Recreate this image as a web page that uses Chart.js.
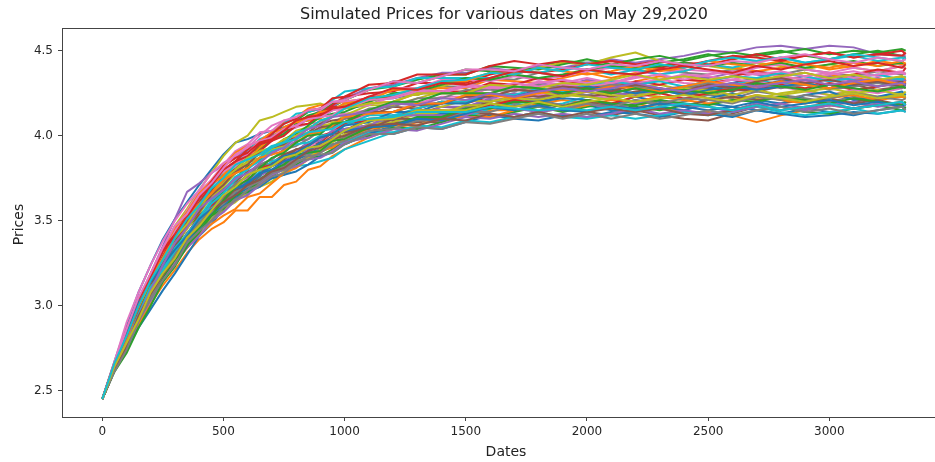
<!DOCTYPE html>
<html><head><meta charset="utf-8">
<script src="https://cdn.jsdelivr.net/npm/chart.js@4/dist/chart.umd.min.js"></script>
<style>
html,body{margin:0;padding:0;background:#fff;overflow:hidden;width:935px;height:462px}
canvas{display:block}
</style></head><body>
<canvas id="c" width="935" height="462" style="width:935px;height:462px"></canvas>
<script>
const titleText = "Simulated Prices for various dates on May 29,2020";
const xLabel = "Dates";
const yLabel = "Prices";
const xTicks = [0, 500, 1000, 1500, 2000, 2500, 3000];
const yTicks = [2.5, 3.0, 3.5, 4.0, 4.5];
const dates = [0,50,100,150,200,250,300,350,400,450,500,550,600,650,700,750,800,850,900,950,1000,1100,1200,1300,1400,1500,1600,1700,1800,1900,2000,2100,2200,2300,2400,2500,2600,2700,2800,2900,3000,3100,3200,3300,3315];

const s00 = [2.45,2.67,2.88,3.08,3.24,3.39,3.51,3.61,3.71,3.80,3.89,3.96,3.98,4.01,4.03,4.05,4.08,4.09,4.11,4.15,4.19,4.21,4.22,4.25,4.25,4.25,4.28,4.27,4.26,4.24,4.28,4.30,4.30,4.27,4.25,4.28,4.31,4.34,4.33,4.31,4.28,4.30,4.33,4.32,4.31];
const s01 = [2.45,2.62,2.74,2.89,3.01,3.12,3.21,3.31,3.39,3.45,3.49,3.56,3.56,3.64,3.64,3.71,3.73,3.80,3.82,3.88,3.92,3.99,4.04,4.08,4.09,4.14,4.15,4.15,4.19,4.21,4.19,4.16,4.19,4.16,4.14,4.14,4.12,4.08,4.12,4.15,4.18,4.16,4.19,4.17,4.18];
const s02 = [2.45,2.66,2.82,3.02,3.14,3.29,3.42,3.50,3.61,3.71,3.77,3.81,3.87,3.94,4.00,4.03,4.09,4.14,4.16,4.17,4.21,4.27,4.32,4.31,4.35,4.39,4.38,4.37,4.41,4.44,4.43,4.41,4.40,4.43,4.45,4.48,4.45,4.48,4.50,4.47,4.45,4.48,4.50,4.47,4.46];
const s03 = [2.45,2.62,2.76,2.92,3.04,3.19,3.28,3.37,3.47,3.53,3.63,3.67,3.70,3.78,3.84,3.85,3.91,3.91,3.96,4.02,4.03,4.10,4.11,4.16,4.20,4.19,4.23,4.27,4.26,4.29,4.28,4.25,4.28,4.25,4.27,4.31,4.33,4.31,4.29,4.32,4.30,4.27,4.29,4.31,4.33];
const s04 = [2.45,2.66,2.84,3.03,3.19,3.35,3.51,3.67,3.72,3.78,3.83,3.87,3.93,3.95,4.00,4.02,4.05,4.10,4.15,4.17,4.22,4.28,4.30,4.34,4.37,4.37,4.40,4.38,4.41,4.40,4.43,4.45,4.43,4.45,4.47,4.50,4.49,4.52,4.53,4.51,4.53,4.52,4.48,4.47,4.47];
const s05 = [2.45,2.64,2.78,2.94,3.10,3.20,3.33,3.41,3.51,3.61,3.67,3.71,3.77,3.80,3.83,3.89,3.92,3.93,3.95,4.00,4.00,4.02,4.08,4.08,4.08,4.13,4.13,4.11,4.14,4.16,4.14,4.12,4.15,4.12,4.10,4.09,4.13,4.17,4.19,4.21,4.18,4.20,4.22,4.24,4.23];
const s06 = [2.45,2.64,2.82,2.97,3.14,3.25,3.38,3.50,3.58,3.68,3.77,3.82,3.89,3.91,3.97,4.03,4.05,4.07,4.08,4.12,4.13,4.15,4.19,4.19,4.19,4.23,4.22,4.21,4.24,4.26,4.24,4.22,4.25,4.22,4.24,4.27,4.24,4.27,4.29,4.26,4.24,4.27,4.25,4.28,4.29];
const s07 = [2.45,2.62,2.80,2.95,3.12,3.24,3.37,3.46,3.57,3.64,3.73,3.78,3.81,3.87,3.89,3.95,4.00,4.05,4.07,4.12,4.16,4.18,4.24,4.24,4.29,4.29,4.34,4.33,4.37,4.35,4.39,4.37,4.36,4.39,4.37,4.36,4.39,4.38,4.36,4.39,4.37,4.35,4.38,4.36,4.37];
const s08 = [2.45,2.66,2.84,3.02,3.18,3.33,3.47,3.57,3.68,3.78,3.88,3.96,4.00,4.09,4.11,4.14,4.17,4.18,4.19,4.16,4.18,4.20,4.24,4.24,4.29,4.33,4.37,4.37,4.40,4.43,4.42,4.46,4.49,4.44,4.42,4.41,4.39,4.43,4.41,4.39,4.42,4.40,4.38,4.41,4.40];
const s09 = [2.45,2.64,2.78,2.94,3.05,3.18,3.27,3.39,3.46,3.52,3.60,3.64,3.67,3.73,3.75,3.77,3.82,3.83,3.85,3.87,3.92,3.97,4.02,4.06,4.11,4.11,4.16,4.19,4.17,4.19,4.23,4.21,4.25,4.27,4.24,4.27,4.30,4.33,4.30,4.32,4.35,4.33,4.31,4.34,4.32];
const s10 = [2.45,2.62,2.74,2.87,2.98,3.09,3.19,3.30,3.41,3.48,3.57,3.65,3.69,3.76,3.82,3.85,3.91,3.96,3.98,4.03,4.04,4.06,4.12,4.12,4.12,4.17,4.17,4.15,4.18,4.15,4.18,4.15,4.14,4.17,4.15,4.19,4.17,4.15,4.13,4.16,4.14,4.12,4.15,4.17,4.16];
const s11 = [2.45,2.66,2.84,2.99,3.15,3.29,3.42,3.50,3.61,3.71,3.77,3.85,3.92,3.96,4.02,4.08,4.11,4.16,4.18,4.19,4.20,4.22,4.28,4.28,4.28,4.28,4.33,4.32,4.31,4.34,4.37,4.34,4.37,4.40,4.38,4.42,4.40,4.38,4.40,4.42,4.39,4.41,4.44,4.42,4.43];
const s12 = [2.45,2.64,2.82,3.00,3.12,3.28,3.37,3.49,3.57,3.67,3.75,3.79,3.85,3.92,3.98,4.01,4.07,4.12,4.14,4.19,4.21,4.27,4.29,4.33,4.36,4.36,4.41,4.40,4.39,4.42,4.45,4.42,4.45,4.47,4.44,4.47,4.49,4.47,4.49,4.51,4.48,4.50,4.49,4.51,4.50];
const s13 = [2.45,2.64,2.78,2.97,3.12,3.28,3.37,3.49,3.60,3.67,3.76,3.80,3.84,3.91,3.97,4.00,4.06,4.11,4.13,4.18,4.23,4.25,4.26,4.31,4.31,4.31,4.36,4.39,4.37,4.39,4.42,4.44,4.42,4.40,4.43,4.42,4.45,4.48,4.45,4.47,4.49,4.46,4.48,4.47,4.49];
const s14 = [2.45,2.62,2.78,2.92,3.08,3.19,3.32,3.40,3.50,3.56,3.64,3.72,3.76,3.83,3.86,3.92,3.97,3.98,4.04,4.05,4.11,4.13,4.19,4.19,4.19,4.24,4.28,4.27,4.31,4.29,4.33,4.31,4.30,4.33,4.35,4.34,4.37,4.36,4.33,4.35,4.32,4.34,4.31,4.33,4.32];
const s15 = [2.45,2.66,2.80,3.00,3.15,3.27,3.40,3.48,3.55,3.64,3.69,3.73,3.79,3.82,3.84,3.89,3.91,3.95,3.96,3.98,4.03,4.09,4.09,4.13,4.17,4.16,4.20,4.23,4.21,4.23,4.26,4.23,4.26,4.28,4.25,4.24,4.27,4.26,4.29,4.31,4.28,4.30,4.27,4.29,4.28];
const s16 = [2.45,2.66,2.86,3.03,3.19,3.34,3.45,3.56,3.67,3.74,3.83,3.91,3.95,4.02,4.03,4.09,4.10,4.15,4.15,4.20,4.20,4.22,4.28,4.28,4.33,4.33,4.32,4.35,4.33,4.35,4.38,4.40,4.38,4.36,4.39,4.38,4.36,4.40,4.42,4.39,4.37,4.40,4.38,4.41,4.39];
const s17 = [2.45,2.62,2.76,2.91,3.04,3.15,3.28,3.37,3.44,3.53,3.58,3.62,3.68,3.75,3.78,3.84,3.87,3.88,3.92,3.97,3.99,4.05,4.10,4.09,4.13,4.17,4.21,4.19,4.22,4.25,4.24,4.27,4.30,4.27,4.29,4.32,4.29,4.32,4.29,4.31,4.28,4.30,4.33,4.31,4.32];
const s18 = [2.45,2.64,2.82,2.95,3.11,3.21,3.34,3.46,3.54,3.64,3.70,3.78,3.85,3.89,3.91,3.97,4.03,4.05,4.06,4.07,4.12,4.18,4.18,4.22,4.26,4.25,4.25,4.29,4.28,4.25,4.28,4.30,4.28,4.30,4.27,4.26,4.29,4.32,4.29,4.31,4.28,4.30,4.32,4.29,4.30];
const s19 = [2.45,2.66,2.84,3.00,3.17,3.28,3.41,3.52,3.60,3.70,3.79,3.84,3.91,3.98,4.01,4.07,4.13,4.14,4.16,4.21,4.26,4.28,4.29,4.34,4.34,4.34,4.34,4.38,4.37,4.40,4.39,4.36,4.39,4.36,4.38,4.42,4.40,4.44,4.46,4.43,4.45,4.47,4.44,4.46,4.45];
const s20 = [2.45,2.64,2.78,2.94,3.07,3.21,3.30,3.39,3.49,3.55,3.60,3.67,3.70,3.73,3.78,3.80,3.85,3.90,3.92,3.93,3.95,4.01,4.01,4.05,4.04,4.08,4.12,4.10,4.09,4.12,4.11,4.14,4.13,4.11,4.14,4.13,4.11,4.15,4.13,4.11,4.12,4.14,4.13,4.15,4.14];
const s21 = [2.45,2.66,2.82,3.00,3.17,3.30,3.43,3.54,3.62,3.72,3.76,3.84,3.86,3.93,3.99,4.05,4.08,4.09,4.10,4.16,4.17,4.19,4.20,4.25,4.25,4.25,4.30,4.29,4.27,4.29,4.32,4.29,4.32,4.35,4.33,4.32,4.29,4.32,4.35,4.33,4.36,4.34,4.32,4.35,4.33];
const s22 = [2.45,2.62,2.78,2.94,3.05,3.20,3.29,3.38,3.46,3.56,3.61,3.65,3.71,3.74,3.76,3.81,3.83,3.87,3.88,3.92,3.97,4.00,4.05,4.04,4.08,4.12,4.11,4.14,4.17,4.14,4.17,4.19,4.17,4.15,4.18,4.17,4.15,4.19,4.17,4.14,4.13,4.16,4.18,4.15,4.17];
const s23 = [2.45,2.64,2.84,3.02,3.14,3.29,3.42,3.50,3.61,3.71,3.80,3.85,3.92,3.95,3.97,4.03,4.06,4.07,4.12,4.17,4.17,4.23,4.23,4.27,4.26,4.26,4.31,4.30,4.34,4.32,4.30,4.28,4.32,4.30,4.33,4.32,4.35,4.38,4.35,4.37,4.34,4.36,4.39,4.37,4.40];
const s24 = [2.45,2.62,2.76,2.94,3.05,3.16,3.29,3.38,3.45,3.51,3.59,3.63,3.66,3.72,3.78,3.81,3.87,3.92,3.94,3.99,4.04,4.06,4.12,4.12,4.17,4.17,4.22,4.25,4.23,4.25,4.28,4.25,4.24,4.27,4.29,4.32,4.29,4.28,4.31,4.33,4.35,4.32,4.34,4.31,4.33];
const s25 = [2.45,2.64,2.80,2.99,3.15,3.29,3.38,3.50,3.61,3.68,3.74,3.78,3.84,3.87,3.93,3.96,3.98,4.02,4.07,4.09,4.10,4.12,4.17,4.16,4.20,4.20,4.25,4.24,4.23,4.25,4.23,4.25,4.28,4.26,4.29,4.28,4.26,4.30,4.32,4.30,4.28,4.31,4.29,4.32,4.30];
const s26 = [2.45,2.64,2.78,2.94,3.07,3.18,3.30,3.39,3.49,3.59,3.65,3.69,3.75,3.78,3.80,3.85,3.91,3.93,3.98,4.03,4.07,4.13,4.14,4.19,4.23,4.23,4.28,4.27,4.31,4.33,4.31,4.33,4.31,4.33,4.36,4.35,4.33,4.37,4.35,4.33,4.36,4.38,4.35,4.37,4.36];
const s27 = [2.45,2.62,2.76,2.92,3.05,3.16,3.26,3.35,3.45,3.51,3.56,3.63,3.66,3.73,3.79,3.82,3.88,3.89,3.90,3.94,3.99,4.05,4.10,4.09,4.13,4.18,4.18,4.22,4.21,4.18,4.21,4.18,4.21,4.18,4.20,4.24,4.22,4.26,4.24,4.22,4.20,4.23,4.21,4.24,4.22];
const s28 = [2.45,2.62,2.78,2.92,3.05,3.16,3.26,3.35,3.45,3.51,3.57,3.61,3.67,3.70,3.73,3.79,3.85,3.87,3.92,3.96,4.01,4.07,4.08,4.13,4.13,4.18,4.18,4.22,4.21,4.24,4.23,4.21,4.25,4.23,4.21,4.25,4.23,4.22,4.25,4.27,4.24,4.26,4.23,4.25,4.24];
const s29 = [2.45,2.64,2.78,2.94,3.10,3.20,3.29,3.41,3.48,3.54,3.62,3.66,3.72,3.79,3.85,3.87,3.89,3.90,3.91,3.95,3.96,4.02,4.02,4.06,4.05,4.09,4.08,4.11,4.14,4.11,4.10,4.12,4.10,4.12,4.14,4.12,4.14,4.17,4.14,4.12,4.14,4.16,4.13,4.15,4.14];
const s30 = [2.45,2.62,2.76,2.91,3.07,3.18,3.30,3.39,3.46,3.55,3.60,3.64,3.67,3.70,3.75,3.77,3.79,3.83,3.88,3.90,3.95,4.01,4.06,4.09,4.13,4.14,4.18,4.20,4.20,4.22,4.21,4.18,4.23,4.20,4.17,4.22,4.25,4.21,4.19,4.24,4.26,4.21,4.23,4.26,4.24];
const s31 = [2.45,2.62,2.76,2.91,3.03,3.15,3.25,3.34,3.42,3.48,3.53,3.57,3.64,3.66,3.72,3.78,3.81,3.86,3.91,3.93,3.98,4.04,4.06,4.06,4.11,4.11,4.11,4.15,4.18,4.15,4.18,4.21,4.20,4.23,4.21,4.19,4.21,4.24,4.21,4.19,4.22,4.24,4.21,4.23,4.22];
const s32 = [2.45,2.64,2.82,2.99,3.14,3.25,3.34,3.46,3.53,3.59,3.67,3.75,3.82,3.86,3.92,3.98,4.01,4.06,4.11,4.13,4.14,4.20,4.25,4.26,4.30,4.34,4.33,4.36,4.34,4.36,4.39,4.41,4.39,4.41,4.43,4.41,4.43,4.41,4.43,4.40,4.42,4.44,4.41,4.43,4.42];
const s33 = [2.45,2.62,2.76,2.95,3.07,3.21,3.30,3.42,3.53,3.59,3.64,3.68,3.74,3.81,3.83,3.85,3.90,3.95,4.00,4.02,4.07,4.09,4.10,4.15,4.15,4.14,4.18,4.21,4.19,4.17,4.21,4.19,4.23,4.25,4.22,4.25,4.28,4.27,4.30,4.28,4.31,4.29,4.32,4.30,4.31];
const s34 = [2.45,2.62,2.76,2.92,3.04,3.15,3.28,3.37,3.44,3.53,3.62,3.67,3.74,3.77,3.79,3.85,3.91,3.96,3.97,4.03,4.04,4.06,4.12,4.12,4.12,4.12,4.17,4.16,4.14,4.16,4.19,4.16,4.19,4.21,4.18,4.17,4.14,4.17,4.19,4.16,4.18,4.20,4.17,4.19,4.18];
const s35 = [2.45,2.64,2.78,2.95,3.08,3.19,3.32,3.40,3.47,3.56,3.61,3.68,3.71,3.77,3.83,3.86,3.92,3.94,3.99,4.01,4.02,4.04,4.10,4.10,4.10,4.15,4.19,4.17,4.20,4.17,4.20,4.17,4.16,4.19,4.17,4.21,4.23,4.21,4.23,4.20,4.22,4.19,4.21,4.18,4.20];
const s36 = [2.45,2.66,2.82,3.02,3.17,3.32,3.44,3.52,3.63,3.73,3.79,3.83,3.90,3.97,4.02,4.04,4.06,4.10,4.11,4.12,4.17,4.18,4.23,4.27,4.26,4.30,4.29,4.28,4.32,4.30,4.29,4.31,4.35,4.33,4.31,4.30,4.33,4.32,4.29,4.32,4.34,4.31,4.33,4.30,4.32];
const s37 = [2.45,2.64,2.80,2.95,3.08,3.23,3.32,3.43,3.50,3.56,3.64,3.72,3.76,3.83,3.86,3.92,3.94,3.98,4.03,4.05,4.10,4.16,4.17,4.22,4.22,4.27,4.27,4.26,4.30,4.28,4.27,4.30,4.29,4.26,4.28,4.31,4.28,4.31,4.28,4.30,4.27,4.29,4.31,4.28,4.29];
const s38 = [2.45,2.66,2.82,3.00,3.14,3.28,3.37,3.45,3.56,3.66,3.72,3.80,3.84,3.87,3.92,3.94,4.00,4.02,4.03,4.08,4.08,4.14,4.14,4.18,4.17,4.21,4.20,4.23,4.26,4.23,4.26,4.24,4.23,4.26,4.28,4.27,4.24,4.27,4.24,4.26,4.28,4.25,4.27,4.24,4.26];
const s39 = [2.45,2.64,2.78,2.94,3.08,3.19,3.32,3.40,3.50,3.60,3.66,3.74,3.81,3.85,3.91,3.93,3.95,3.96,4.00,4.01,4.06,4.12,4.12,4.16,4.20,4.20,4.25,4.24,4.28,4.26,4.30,4.32,4.30,4.32,4.29,4.32,4.35,4.34,4.37,4.35,4.32,4.34,4.36,4.33,4.35];
const s40 = [2.45,2.62,2.77,2.92,3.05,3.17,3.27,3.38,3.45,3.54,3.59,3.66,3.73,3.77,3.83,3.88,3.90,3.94,3.99,4.01,4.06,4.08,4.14,4.14,4.19,4.19,4.24,4.23,4.27,4.25,4.29,4.27,4.25,4.27,4.24,4.27,4.29,4.27,4.29,4.31,4.28,4.30,4.32,4.29,4.30];
const s41 = [2.45,2.66,2.84,3.03,3.19,3.33,3.46,3.55,3.66,3.73,3.82,3.90,3.94,3.97,4.02,4.04,4.09,4.10,4.14,4.15,4.19,4.21,4.27,4.27,4.32,4.32,4.37,4.36,4.40,4.38,4.36,4.38,4.41,4.38,4.40,4.44,4.42,4.41,4.44,4.42,4.40,4.43,4.41,4.44,4.42];
const s42 = [2.45,2.63,2.76,2.92,3.04,3.17,3.27,3.35,3.43,3.53,3.57,3.65,3.67,3.74,3.80,3.83,3.89,3.90,3.91,3.97,3.98,4.05,4.06,4.11,4.11,4.16,4.16,4.20,4.19,4.17,4.21,4.19,4.18,4.21,4.19,4.18,4.21,4.20,4.23,4.21,4.19,4.22,4.20,4.18,4.20];
const s43 = [2.45,2.65,2.86,3.03,3.18,3.33,3.42,3.53,3.64,3.71,3.80,3.85,3.88,3.95,4.01,4.07,4.10,4.15,4.16,4.22,4.23,4.30,4.31,4.36,4.36,4.36,4.41,4.44,4.42,4.44,4.42,4.44,4.42,4.44,4.41,4.44,4.47,4.46,4.44,4.47,4.49,4.46,4.48,4.50,4.48];
const s44 = [2.45,2.63,2.74,2.91,3.03,3.14,3.25,3.34,3.41,3.50,3.55,3.62,3.65,3.71,3.77,3.80,3.82,3.86,3.87,3.91,3.96,3.99,4.04,4.03,4.07,4.11,4.10,4.13,4.11,4.13,4.11,4.13,4.16,4.13,4.15,4.13,4.15,4.19,4.17,4.15,4.18,4.16,4.19,4.17,4.18];
const s45 = [2.45,2.64,2.82,2.97,3.10,3.25,3.35,3.47,3.55,3.65,3.71,3.79,3.83,3.90,3.93,3.95,4.00,4.01,4.05,4.06,4.08,4.14,4.14,4.18,4.19,4.23,4.23,4.27,4.26,4.29,4.28,4.26,4.30,4.28,4.26,4.30,4.28,4.32,4.34,4.31,4.33,4.30,4.32,4.29,4.31];
const s46 = [2.45,2.67,2.90,3.08,3.24,3.38,3.50,3.60,3.68,3.78,3.84,3.88,3.94,3.97,3.99,4.04,4.06,4.10,4.11,4.15,4.16,4.21,4.22,4.26,4.25,4.29,4.28,4.31,4.29,4.31,4.34,4.31,4.34,4.36,4.33,4.36,4.38,4.36,4.38,4.35,4.37,4.34,4.36,4.38,4.36];
const s47 = [2.45,2.63,2.78,2.94,3.05,3.18,3.30,3.39,3.49,3.55,3.60,3.67,3.70,3.73,3.78,3.80,3.85,3.86,3.90,3.95,3.97,4.03,4.04,4.09,4.09,4.14,4.14,4.18,4.17,4.15,4.19,4.17,4.21,4.19,4.22,4.21,4.19,4.23,4.21,4.24,4.22,4.25,4.23,4.21,4.22];
const s48 = [2.45,2.65,2.84,2.99,3.15,3.27,3.40,3.48,3.59,3.66,3.75,3.80,3.87,3.91,3.93,3.98,4.00,4.04,4.09,4.11,4.16,4.19,4.20,4.25,4.25,4.25,4.30,4.29,4.28,4.31,4.30,4.33,4.36,4.33,4.35,4.33,4.35,4.33,4.35,4.37,4.34,4.36,4.33,4.35,4.34];
const s49 = [2.45,2.64,2.78,2.95,3.11,3.21,3.34,3.42,3.52,3.62,3.68,3.76,3.80,3.87,3.93,3.96,4.02,4.04,4.09,4.11,4.16,4.22,4.24,4.28,4.32,4.33,4.37,4.36,4.40,4.38,4.42,4.40,4.39,4.42,4.40,4.44,4.46,4.44,4.46,4.43,4.45,4.48,4.46,4.44,4.46];
const s50 = [2.45,2.65,2.84,3.02,3.14,3.24,3.33,3.41,3.51,3.57,3.65,3.69,3.72,3.78,3.80,3.85,3.87,3.91,3.96,3.98,4.03,4.05,4.06,4.10,4.09,4.13,4.17,4.15,4.18,4.15,4.14,4.17,4.16,4.19,4.17,4.15,4.17,4.20,4.17,4.19,4.21,4.18,4.20,4.17,4.19];
const s51 = [2.45,2.63,2.80,3.00,3.17,3.28,3.41,3.52,3.60,3.66,3.74,3.78,3.81,3.87,3.89,3.91,3.96,4.01,4.02,4.06,4.11,4.13,4.14,4.19,4.19,4.24,4.24,4.22,4.25,4.27,4.26,4.29,4.28,4.26,4.29,4.32,4.30,4.29,4.32,4.30,4.28,4.31,4.33,4.30,4.32];
const s52 = [2.45,2.61,2.72,2.87,3.00,3.14,3.23,3.35,3.46,3.53,3.62,3.70,3.74,3.81,3.87,3.90,3.96,4.00,4.01,4.07,4.08,4.15,4.20,4.20,4.25,4.25,4.25,4.29,4.28,4.25,4.28,4.25,4.28,4.25,4.27,4.25,4.27,4.31,4.29,4.27,4.30,4.28,4.26,4.29,4.28];
const s53 = [2.45,2.66,2.82,3.00,3.17,3.32,3.41,3.52,3.63,3.73,3.82,3.87,3.90,3.96,3.98,4.03,4.09,4.11,4.12,4.16,4.17,4.23,4.28,4.27,4.31,4.30,4.34,4.38,4.37,4.35,4.39,4.37,4.36,4.39,4.41,4.39,4.37,4.41,4.39,4.42,4.44,4.41,4.43,4.40,4.42];
const s54 = [2.45,2.64,2.78,2.94,3.09,3.24,3.37,3.46,3.57,3.63,3.68,3.75,3.78,3.84,3.90,3.93,3.99,4.04,4.06,4.11,4.12,4.14,4.19,4.18,4.22,4.21,4.25,4.23,4.26,4.28,4.26,4.28,4.31,4.28,4.26,4.29,4.31,4.29,4.31,4.33,4.30,4.32,4.29,4.31,4.30];
const s55 = [2.45,2.62,2.76,2.94,3.07,3.18,3.28,3.40,3.47,3.56,3.61,3.65,3.71,3.74,3.79,3.81,3.86,3.91,3.93,3.98,4.00,4.06,4.07,4.06,4.10,4.09,4.13,4.11,4.14,4.11,4.14,4.16,4.14,4.16,4.13,4.12,4.15,4.18,4.15,4.17,4.19,4.16,4.18,4.20,4.18];
const s56 = [2.45,2.66,2.86,3.05,3.19,3.34,3.47,3.54,3.65,3.72,3.81,3.89,3.93,4.00,4.06,4.09,4.11,4.15,4.16,4.20,4.21,4.27,4.32,4.31,4.35,4.39,4.39,4.38,4.42,4.40,4.39,4.42,4.41,4.44,4.42,4.41,4.44,4.43,4.46,4.48,4.45,4.43,4.46,4.44,4.45];
const s57 = [2.45,2.61,2.74,2.91,3.04,3.15,3.24,3.37,3.44,3.50,3.58,3.62,3.68,3.71,3.76,3.78,3.84,3.88,3.89,3.90,3.95,4.01,4.01,4.05,4.04,4.08,4.07,4.10,4.13,4.10,4.13,4.10,4.13,4.10,4.12,4.15,4.12,4.15,4.17,4.14,4.16,4.13,4.15,4.17,4.15];
const s58 = [2.45,2.64,2.78,2.92,3.08,3.19,3.28,3.40,3.47,3.56,3.65,3.70,3.77,3.80,3.82,3.87,3.89,3.93,3.94,3.98,4.03,4.09,4.10,4.15,4.15,4.15,4.19,4.17,4.20,4.17,4.20,4.22,4.20,4.22,4.24,4.22,4.20,4.24,4.22,4.20,4.23,4.25,4.22,4.24,4.23];
const s59 = [2.45,2.66,2.82,3.00,3.15,3.27,3.40,3.51,3.59,3.69,3.75,3.83,3.86,3.89,3.94,3.96,3.98,4.02,4.03,4.04,4.08,4.10,4.11,4.14,4.14,4.14,4.17,4.16,4.15,4.16,4.15,4.17,4.15,4.17,4.19,4.17,4.15,4.18,4.15,4.17,4.19,4.16,4.18,4.20,4.18];

const pricePaths = [s00,s01,s02,s03,s04,s05,s06,s07,s08,s09,s10,s11,s12,s13,s14,s15,s16,s17,s18,s19,
                    s20,s21,s22,s23,s24,s25,s26,s27,s28,s29,s30,s31,s32,s33,s34,s35,s36,s37,s38,s39,
                    s40,s41,s42,s43,s44,s45,s46,s47,s48,s49,s50,s51,s52,s53,s54,s55,s56,s57,s58,s59];
const palette = ['#1f77b4','#ff7f0e','#2ca02c','#d62728','#9467bd','#8c564b','#e377c2','#7f7f7f','#bcbd22','#17becf'];

const FONT = "'DejaVu Sans', 'Liberation Sans', sans-serif";
const AXIS = '#444';

const datasets = pricePaths.map((s, i) => ({
  data: dates.map((d, k) => ({x: d, y: s[k]})),
  borderColor: palette[i % palette.length],
  borderWidth: 2,
  pointRadius: 0,
  fill: false,
  tension: 0,
  borderJoinStyle: 'round',
  order: pricePaths.length - i
}));

const decor = {
  id: 'decor',
  afterDraw(chart) {
    const {ctx, chartArea: a} = chart;
    ctx.save();
    // clear the strip right of the last data point inside the plot box (keeps the right side open like the reference)
    ctx.fillStyle = '#fff';
    ctx.fillRect(920, a.top + 1, chart.width - 920, a.bottom - a.top - 1);
    ctx.strokeStyle = AXIS;
    ctx.lineWidth = 1;
    ctx.beginPath();
    ctx.moveTo(a.left, a.top + 0.5);
    ctx.lineTo(chart.width, a.top + 0.5);
    ctx.stroke();
    const cx = 504;
    ctx.fillStyle = '#222';
    ctx.textAlign = 'center';
    ctx.textBaseline = 'alphabetic';
    ctx.font = '16px ' + FONT;
    ctx.fillText(titleText, cx, 19);
    ctx.font = '14px ' + FONT;
    ctx.fillText(xLabel, cx + 2, 456);
    ctx.translate(23, (a.top + a.bottom) / 2 + 2);
    ctx.rotate(-Math.PI / 2);
    ctx.fillText(yLabel, 0, 0);
    ctx.restore();
  }
};

new Chart(document.getElementById('c'), {
  type: 'line',
  data: { datasets },
  options: {
    responsive: false,
    devicePixelRatio: 1,
    animation: false,
    events: [],
    layout: { padding: { left: 0, top: 28, right: 0, bottom: 0 } },
    plugins: { legend: { display: false }, tooltip: { enabled: false }, title: { display: false } },
    scales: {
      x: {
        type: 'linear', min: -166, max: 3436,
        afterBuildTicks: s => { s.ticks = xTicks.map(v => ({value: v})); },
        afterFit: s => { s.height = 45; s.paddingRight = 0; s.paddingLeft = 0; },
        grid: { drawOnChartArea: false, drawTicks: true, tickLength: 4, color: AXIS, lineWidth: 1 },
        border: { display: true, color: AXIS, width: 1 },
        ticks: { font: { family: FONT, size: 12 }, color: '#262626', padding: 4, maxRotation: 0, autoSkip: false, callback: v => String(v) }
      },
      y: {
        type: 'linear', min: 2.345, max: 4.634,
        afterBuildTicks: s => { s.ticks = yTicks.map(v => ({value: v})); },
        afterFit: s => { s.width = 62; },
        grid: { drawOnChartArea: false, drawTicks: true, tickLength: 4, color: AXIS, lineWidth: 1 },
        border: { display: true, color: AXIS, width: 1 },
        ticks: { font: { family: FONT, size: 12 }, color: '#262626', padding: 5, autoSkip: false, callback: v => Number(v).toFixed(1) }
      }
    }
  },
  plugins: [decor]
});
</script>
</body></html>
